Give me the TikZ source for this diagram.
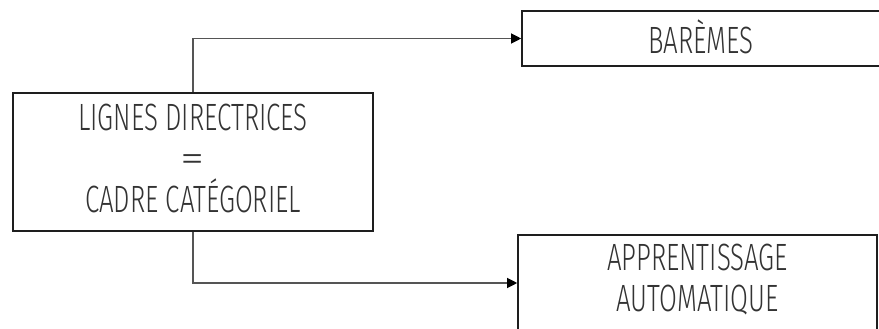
\documentclass[tikz,border=0pt]{standalone}
\usepackage{fontspec}
\IfFontExistsTF{Fira Sans Light}{\setmainfont{Fira Sans Light}[FakeStretch=0.68]}{%
  \IfFontExistsTF{Lato Light}{\setmainfont{Lato Light}[FakeStretch=0.7]}{%
    \IfFontExistsTF{Open Sans Light}{\setmainfont{Open Sans Light}[FakeStretch=0.68]}{%
      \setmainfont{Fira Sans}[FakeStretch=0.68]}}}
\usetikzlibrary{arrows.meta}
\definecolor{boxline}{HTML}{1E1E1E}
\definecolor{conn}{HTML}{555555}
\definecolor{txt}{HTML}{333333}
\begin{document}
\begin{tikzpicture}[x=1pt,y=-1pt,
  boxstyle/.style={draw=boxline,line width=1.6pt,rectangle,inner sep=0pt,text=txt,align=center,font=\fontsize{38}{41}\selectfont},
  txtstyle/.style={text=txt,align=center,inner sep=0pt,font=\fontsize{38}{41}\selectfont},
  connstyle/.style={draw=conn,line width=1.2pt,-{Triangle[length=10pt,width=10pt,color=black]}}]
\useasboundingbox (0,0) rectangle (879,329);
\node[boxstyle,minimum width=360pt,minimum height=138pt,
  label={[txtstyle,anchor=center,yshift=4pt]center:LIGNES DIRECTRICES\\\scalebox{1.9}[1]{=}\\CADRE CATÉGORIEL}] (guide) at (193,162) {};
\node[boxstyle,minimum width=358pt,minimum height=55pt,
  label={[txtstyle,anchor=center,yshift=1.5pt]center:BARÈMES}] (bar) at (701,38.5) {};
\node[boxstyle,minimum width=359pt,minimum height=96pt,
  label={[txtstyle,anchor=north,yshift=-10pt]north:APPRENTISSAGE\\AUTOMATIQUE}] (app) at (697.5,283) {};
\draw[connstyle] (guide.north) |- (bar.west);
\draw[connstyle] (guide.south) |- (app.west);
\end{tikzpicture}
\end{document}
